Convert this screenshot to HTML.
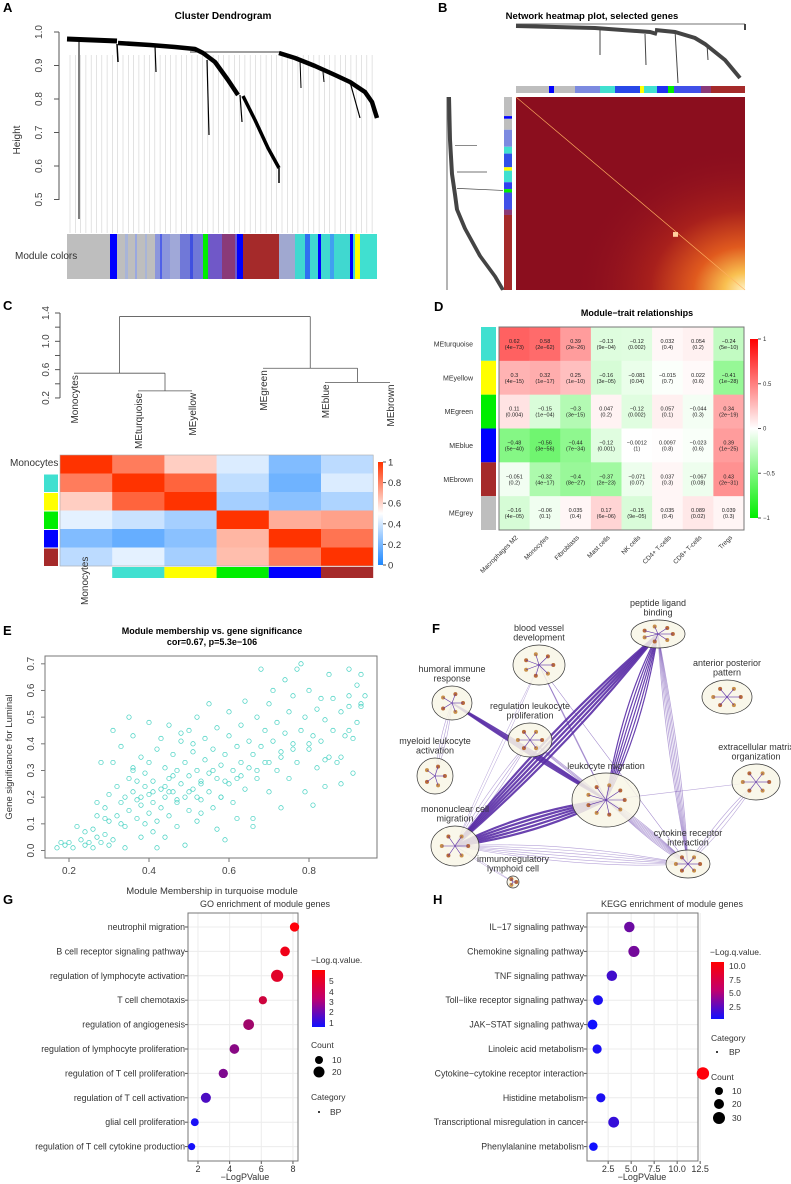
<!DOCTYPE html>
<html><head><meta charset="utf-8"><style>
body{margin:0;background:#fff;}
svg{display:block;font-family:"Liberation Sans",sans-serif;}
</style></head><body>
<svg id="fig" width="791" height="1184" viewBox="0 0 791 1184" xmlns="http://www.w3.org/2000/svg">
<!-- Panel A -->
<g>
<text x="3" y="12" font-size="13" font-weight="bold">A</text>
<text x="223" y="19" font-size="10" font-weight="bold" text-anchor="middle">Cluster Dendrogram</text>
<line x1="59" y1="32" x2="59" y2="200" stroke="#555"/>
<g id="aTicks"></g>
<text transform="translate(20,140) rotate(-90)" font-size="10" text-anchor="middle" fill="#333">Height</text>
<g id="aGrey"></g>
<g fill="none" stroke="#000" stroke-linejoin="round">
<polyline points="67,39 117,41" stroke-width="5"/>
<polyline points="118,43 150,45 175,47 195,49 203,53 215,62 228,80 238,95" stroke-width="4.5"/>
<polyline points="243,96 255,120 268,148 279,168" stroke-width="3.5"/>
<line x1="279" y1="168" x2="279" y2="183" stroke-width="1.5"/>
<line x1="79" y1="40" x2="79" y2="219" stroke-width="1"/>
<line x1="117" y1="44" x2="118" y2="62" stroke-width="1.5"/>
<line x1="155" y1="46" x2="156" y2="72" stroke-width="1.2"/>
<line x1="207" y1="60" x2="209" y2="135" stroke-width="1.2"/>
<line x1="240" y1="95" x2="242" y2="122" stroke-width="1.2"/>
<line x1="190" y1="52" x2="280" y2="52" stroke-width="0.8"/>
<polyline points="279,53 295,58 315,66 335,75 350,82 365,92 372,102 377,118" stroke-width="4.5"/>
<line x1="300" y1="60" x2="301" y2="88" stroke-width="1"/>
<line x1="323" y1="72" x2="324" y2="82" stroke-width="1"/>
<line x1="350" y1="82" x2="360" y2="118" stroke-width="1.2"/>
</g>
<g id="aBar"></g>
<text x="15" y="259" font-size="10" fill="#333">Module colors</text>
</g>
<!-- Panel B -->
<text x="438" y="12" font-size="13" font-weight="bold">B</text>
<text x="592" y="19" font-size="9.5" font-weight="bold" text-anchor="middle">Network heatmap plot, selected genes</text>
<g transform="translate(395,0)">
<g fill="none" stroke="#444">
<polyline points="121,26 200,28 255,32 262,34" stroke-width="4"/>
<polyline points="260,30 280,32 300,38 310,44 330,60 345,78" stroke-width="4"/>
<line x1="121" y1="24" x2="350" y2="24" stroke-width="0.8"/>
<line x1="350" y1="24" x2="350" y2="30" stroke-width="2"/>
<line x1="205" y1="30" x2="205" y2="55" stroke-width="1"/>
<line x1="250" y1="34" x2="251" y2="65" stroke-width="1"/>
<line x1="280" y1="30" x2="283" y2="83" stroke-width="1"/>
<line x1="312" y1="44" x2="313" y2="60" stroke-width="1"/>
</g>
<g id="bBars"></g>
<defs>
<radialGradient id="hg" cx="1" cy="1" r="0.75">
<stop offset="0" stop-color="#fff3c8"/><stop offset="0.12" stop-color="#f9c050"/><stop offset="0.3" stop-color="#e05a1e"/><stop offset="0.55" stop-color="#a8201c"/><stop offset="1" stop-color="#8b0e1e" stop-opacity="0"/>
</radialGradient>
<linearGradient id="cgC" x1="0" y1="0" x2="0" y2="1"><stop offset="0" stop-color="#ff3300"/><stop offset="0.5" stop-color="#ffffff"/><stop offset="1" stop-color="#1e88ff"/></linearGradient>
<linearGradient id="cgD" x1="0" y1="0" x2="0" y2="1"><stop offset="0" stop-color="#ff0000"/><stop offset="0.5" stop-color="#ffffff"/><stop offset="1" stop-color="#00ee00"/></linearGradient>
<linearGradient id="cgG" x1="0" y1="0" x2="0" y2="1"><stop offset="0" stop-color="#ff0000"/><stop offset="0.5" stop-color="#c0006f"/><stop offset="1" stop-color="#1010ff"/></linearGradient>
</defs>
<g transform="translate(0,97) scale(1,0.682) translate(0,-97)">
<g fill="none" stroke="#444">
<polyline points="54,97 55,160 57,210 60,240 62,262 70,290 85,330 100,360 108,380" stroke-width="4"/>
<line x1="52" y1="97" x2="52" y2="380" stroke-width="0.8"/>
<line x1="60" y1="168" x2="82" y2="168" stroke-width="1"/>
<line x1="62" y1="207" x2="92" y2="207" stroke-width="1"/>
<line x1="62" y1="231" x2="108" y2="234" stroke-width="1"/>
</g>
<g id="bLeftBars"></g>
<rect x="121" y="97" width="229" height="283" fill="#8b0e1e"/>
<rect x="121" y="97" width="229" height="283" fill="url(#hg)"/>
<line x1="121" y1="97" x2="350" y2="380" stroke="#ffb060" stroke-width="0.8"/>
<rect x="278" y="295" width="5" height="7" fill="#ffd0a0"/>
</g>
</g>
<!-- Panel C -->
<g>
<text x="3" y="310" font-size="13" font-weight="bold">C</text>
<line x1="60" y1="313" x2="60" y2="398" stroke="#555"/>
<g id="cTicks"></g>
<g id="cDend" fill="none" stroke="#555" stroke-width="0.8"></g>
<g id="cHeat"></g>
<text x="10" y="466" font-size="10" fill="#333">Monocytes</text>
<text transform="translate(88,605) rotate(-90)" font-size="10" fill="#333">Monocytes</text>
<rect x="378" y="462" width="5" height="103" fill="url(#cgC)"/>
<g id="cLeg" font-size="9.5" fill="#333"></g>
</g>
<!-- Panel D -->
<g>
<text x="434" y="311" font-size="13" font-weight="bold">D</text>
<text x="637" y="316" font-size="9" font-weight="bold" text-anchor="middle">Module−trait relationships</text>
<g id="dHeat"></g>
<rect x="499" y="327" width="245" height="203" fill="none" stroke="#777"/>
<rect x="750" y="339" width="8" height="179" fill="url(#cgD)"/>
<g id="dLeg" font-size="6" fill="#333"></g>
</g>
<!-- Panel E -->
<g>
<text x="3" y="635" font-size="13" font-weight="bold">E</text>
<text x="212" y="634" font-size="9" font-weight="bold" text-anchor="middle">Module membership vs. gene significance</text>
<text x="212" y="645" font-size="9" font-weight="bold" text-anchor="middle">cor=0.67, p=5.3e−106</text>
<rect x="45" y="656" width="332" height="202" fill="none" stroke="#777"/>
<g id="eAx" font-size="10" fill="#444"></g>
<text transform="translate(12,757) rotate(-90)" font-size="9.5" fill="#333" text-anchor="middle">Gene significance for Luminal</text>
<text x="212" y="894" font-size="9.5" fill="#333" text-anchor="middle">Module Membership in turquoise module</text>
<g id="ePts"></g>
</g>
<!-- Panel F -->
<g id="pF">
<text x="432" y="633" font-size="13" font-weight="bold">F</text>
</g>
<!-- Panel G -->
<g>
<text x="3" y="904" font-size="13" font-weight="bold">G</text>
<text x="265" y="907" font-size="9" fill="#333" text-anchor="middle">GO enrichment of module genes</text>
<g id="gPlot"></g>
<text x="245" y="1180" font-size="9" fill="#333" text-anchor="middle">−LogPValue</text>
<text x="311" y="963" font-size="8.5" fill="#333">−Log.q.value.</text>
<rect x="312" y="970" width="13" height="57" fill="url(#cgG)"/>
<g font-size="8.5" fill="#333"><text x="329" y="984">5</text><text x="329" y="995">4</text><text x="329" y="1005">3</text><text x="329" y="1015">2</text><text x="329" y="1026">1</text></g>
<text x="311" y="1048" font-size="8.5" fill="#333">Count</text>
<circle cx="319" cy="1060" r="4"/><text x="332" y="1063" font-size="8.5" fill="#333">10</text>
<circle cx="319" cy="1072" r="5.5"/><text x="332" y="1075" font-size="8.5" fill="#333">20</text>
<text x="311" y="1100" font-size="8.5" fill="#333">Category</text>
<circle cx="319" cy="1112" r="1"/><text x="330" y="1115" font-size="8.5" fill="#333">BP</text>
</g>
<!-- Panel H -->
<g>
<text x="433" y="904" font-size="13" font-weight="bold">H</text>
<text x="672" y="907" font-size="9" fill="#333" text-anchor="middle">KEGG enrichment of module genes</text>
<g id="hPlot"></g>
<text x="642" y="1180" font-size="9" fill="#333" text-anchor="middle">−LogPValue</text>
<text x="710" y="955" font-size="8.5" fill="#333">−Log.q.value.</text>
<rect x="711" y="962" width="13" height="57" fill="url(#cgG)"/>
<g font-size="8.5" fill="#333"><text x="729" y="969">10.0</text><text x="729" y="983">7.5</text><text x="729" y="996">5.0</text><text x="729" y="1010">2.5</text></g>
<text x="711" y="1041" font-size="8.5" fill="#333">Category</text>
<circle cx="717" cy="1052" r="1"/><text x="729" y="1055" font-size="8.5" fill="#333">BP</text>
<text x="711" y="1080" font-size="8.5" fill="#333">Count</text>
<circle cx="719" cy="1091" r="4"/><text x="732" y="1094" font-size="8.5" fill="#333">10</text>
<circle cx="719" cy="1104" r="5"/><text x="732" y="1107" font-size="8.5" fill="#333">20</text>
<circle cx="719" cy="1118" r="6"/><text x="732" y="1121" font-size="8.5" fill="#333">30</text>
</g>
</svg>
<script>
// ---------- data ----------
const aTickVals = [0.5,0.6,0.7,0.8,0.9,1.0];
const aBarSegs = [[67,110,"#bebebe"],[110,117,"#0000ff"],[117,155,"#bebebe"],[125,128,"#a8b4d8"],[135,137,"#9aa8e0"],[145,147,"#a8b4d8"],[155,170,"#8c96dc"],[160,162,"#5060e8"],[170,180,"#a0a8d8"],[180,203,"#7078d8"],[190,193,"#4050e0"],[203,208,"#00ee00"],[208,237,"#7058c8"],[222,235,"#8a3a78"],[237,243,"#0000ff"],[243,279,"#a52a2a"],[279,295,"#a0a8d0"],[295,355,"#40d8d0"],[305,310,"#3070f0"],[318,321,"#0000ff"],[330,334,"#40a0f0"],[350,353,"#0000ff"],[355,360,"#ffff00"],[360,377,"#40e0d0"]];
const bTopSegs = [[121,154,"#bebebe"],[154,159,"#0000ff"],[159,180,"#bebebe"],[180,205,"#7c8ae0"],[205,220,"#40e0d0"],[220,245,"#2848e8"],[245,249,"#ffff00"],[249,262,"#40e0d0"],[262,273,"#2030f0"],[273,279,"#00ee00"],[279,306,"#4050e8"],[306,316,"#8a3a78"],[316,350,"#a52a2a"]];
const bLeftSegs = [[97,125,"#bebebe"],[125,129,"#0000ff"],[129,145,"#bebebe"],[145,170,"#7c8ae0"],[170,180,"#40e0d0"],[180,200,"#3050e8"],[200,205,"#ffff00"],[205,222,"#40e0d0"],[222,232,"#3040f0"],[232,237,"#00ee00"],[237,262,"#4050e8"],[262,270,"#8a3a78"],[270,380,"#a52a2a"]];
const cLeaves = ["Monocytes","MEturquoise","MEyellow","MEgreen","MEblue","MEbrown"];
const cLeafColors = [null,"#40e0d0","#ffff00","#00ee00","#0000ff","#a52a2a"];
const cTickVals = [0.2,0.6,1.0,1.4];
const cCorr = [
 [1.0,0.82,0.62,0.42,0.22,0.35],
 [0.82,1.0,0.88,0.36,0.18,0.42],
 [0.62,0.88,1.0,0.3,0.24,0.32],
 [0.44,0.38,0.3,1.0,0.7,0.73],
 [0.22,0.16,0.24,0.68,1.0,0.84],
 [0.35,0.44,0.3,0.66,0.82,1.0]];
const dRows = ["MEturquoise","MEyellow","MEgreen","MEblue","MEbrown","MEgrey"];
const dRowColors = ["#40e0d0","#ffff00","#00ee00","#0000ff","#a52a2a","#bebebe"];
const dCols = ["Macrophages M2","Monocytes","Fibroblasts","Mast cells","NK cells","CD4+ T-cells","CD8+ T-cells","Tregs"];
const dCor = [
 [0.62,0.58,0.39,-0.13,-0.12,0.032,0.054,-0.24],
 [0.3,0.32,0.25,-0.16,-0.081,-0.015,0.022,-0.41],
 [0.11,-0.15,-0.3,0.047,-0.12,0.057,-0.044,0.34],
 [-0.48,-0.56,-0.44,-0.12,-0.0012,0.0097,-0.023,0.39],
 [-0.051,-0.32,-0.4,-0.37,-0.071,0.037,-0.067,0.43],
 [-0.16,-0.06,0.035,0.17,-0.15,0.035,0.089,0.039]];
const dP = [
 ["4e-73","2e-62","2e-26","9e-04","0.002","0.4","0.2","5e-10"],
 ["4e-15","1e-17","1e-10","3e-05","0.04","0.7","0.6","1e-28"],
 ["0.004","1e-04","3e-15","0.2","0.002","0.1","0.3","2e-19"],
 ["5e-40","3e-56","7e-34","0.001","1","0.8","0.6","1e-25"],
 ["0.2","4e-17","8e-27","2e-23","0.07","0.3","0.08","2e-31"],
 ["4e-05","0.1","0.4","6e-06","9e-05","0.4","0.02","0.3"]];
const dLegVals = [1,0.5,0,-0.5,-1];
const eX = [0.17,0.18,0.19,0.2,0.21,0.22,0.23,0.24,0.24,0.25,0.26,0.26,0.27,0.27,0.28,0.28,0.29,0.29,0.3,0.3,0.3,0.31,0.31,0.32,0.32,0.33,0.33,0.34,0.34,0.34,0.35,0.35,0.36,0.36,0.36,0.37,0.37,0.37,0.38,0.38,0.38,0.39,0.39,0.4,0.4,0.4,0.4,0.41,0.41,0.41,0.42,0.42,0.43,0.43,0.43,0.44,0.44,0.44,0.45,0.45,0.45,0.46,0.46,0.47,0.47,0.47,0.48,0.48,0.49,0.49,0.49,0.5,0.5,0.5,0.51,0.51,0.52,0.52,0.52,0.53,0.53,0.54,0.54,0.55,0.55,0.55,0.56,0.56,0.57,0.57,0.58,0.58,0.59,0.59,0.6,0.6,0.6,0.61,0.61,0.62,0.62,0.63,0.63,0.64,0.64,0.65,0.65,0.66,0.66,0.67,0.67,0.68,0.68,0.69,0.69,0.7,0.7,0.71,0.71,0.72,0.72,0.73,0.73,0.74,0.74,0.75,0.75,0.76,0.76,0.77,0.77,0.78,0.78,0.79,0.79,0.8,0.8,0.81,0.81,0.82,0.82,0.83,0.83,0.84,0.84,0.85,0.85,0.86,0.86,0.87,0.88,0.88,0.89,0.9,0.9,0.91,0.92,0.93,0.88,0.9,0.91,0.92,0.93,0.9,0.93,0.94,0.35,0.39,0.42,0.46,0.53,0.57,0.62,0.66,0.58,0.51,0.48,0.33,0.36,0.38,0.41,0.44,0.47,0.5,0.53,0.56,0.59,0.63,0.67,0.7,0.73,0.76,0.8,0.84,0.31,0.29,0.27,0.45,0.52];
const eY = [0.01,0.03,0.02,0.03,0.01,0.09,0.04,0.02,0.07,0.03,0.08,0.01,0.05,0.13,0.03,0.33,0.06,0.16,0.02,0.11,0.21,0.45,0.04,0.13,0.24,0.18,0.39,0.01,0.09,0.2,0.27,0.15,0.22,0.31,0.43,0.12,0.19,0.26,0.05,0.17,0.35,0.24,0.29,0.14,0.21,0.48,0.33,0.07,0.18,0.26,0.38,0.11,0.23,0.16,0.42,0.31,0.2,0.05,0.27,0.13,0.47,0.22,0.36,0.18,0.3,0.09,0.25,0.41,0.2,0.33,0.02,0.28,0.15,0.45,0.23,0.37,0.3,0.11,0.5,0.26,0.19,0.34,0.42,0.22,0.29,0.55,0.16,0.38,0.27,0.46,0.32,0.2,0.04,0.36,0.25,0.43,0.52,0.3,0.18,0.39,0.27,0.47,0.33,0.23,0.56,0.41,0.31,0.36,0.12,0.5,0.27,0.68,0.39,0.45,0.33,0.22,0.55,0.41,0.6,0.3,0.48,0.37,0.16,0.64,0.44,0.27,0.52,0.4,0.58,0.68,0.33,0.45,0.7,0.22,0.5,0.38,0.6,0.43,0.17,0.53,0.31,0.57,0.41,0.24,0.49,0.35,0.66,0.45,0.57,0.33,0.52,0.25,0.43,0.54,0.68,0.29,0.48,0.55,0.35,0.58,0.42,0.62,0.66,0.45,0.54,0.58,0.5,0.1,0.01,0.28,0.14,0.08,0.12,0.09,0.2,0.4,0.44,0.1,0.3,0.2,0.22,0.24,0.19,0.22,0.25,0.3,0.26,0.28,0.3,0.33,0.35,0.38,0.4,0.34,0.33,0.12,0.18,0.22,0.2,0.22];
const gTerms = ["neutrophil migration","B cell receptor signaling pathway","regulation of lymphocyte activation","T cell chemotaxis","regulation of angiogenesis","regulation of lymphocyte proliferation","regulation of T cell proliferation","regulation of T cell activation","glial cell proliferation","regulation of T cell cytokine production"];
const gLogP = [8.1,7.5,7.0,6.1,5.2,4.3,3.6,2.5,1.8,1.6];
const gLogQ = [5.6,5.3,5.0,4.6,3.7,3.2,3.0,2.0,1.0,0.9];
const gCount = [12,13,20,9,16,13,12,14,8,6];
const gTicks = [2,4,6,8];
const hTerms = ["IL−17 signaling pathway","Chemokine signaling pathway","TNF signaling pathway","Toll−like receptor signaling pathway","JAK−STAT signaling pathway","Linoleic acid metabolism","Cytokine−cytokine receptor interaction","Histidine metabolism","Transcriptional misregulation in cancer","Phenylalanine metabolism"];
const hLogP = [4.8,5.3,2.9,1.4,0.8,1.3,12.8,1.7,3.1,0.9];
const hLogQ = [4.2,4.5,2.5,1.0,0.5,0.9,10.2,1.0,2.0,0.5];
const hCount = [14,16,14,12,12,10,20,10,15,8];
const hTicks = [2.5,5.0,7.5,10.0,12.5];

const NS="http://www.w3.org/2000/svg";
function mk(parent, tag, attrs, txt){const e=document.createElementNS(NS,tag);for(const k in attrs)e.setAttribute(k,attrs[k]);if(txt!==undefined)e.textContent=txt;parent.appendChild(e);return e;}
function lerp(a,b,t){return a+(b-a)*t;}
function rgb(c1,c2,t){return "rgb("+[0,1,2].map(i=>Math.round(lerp(c1[i],c2[i],t))).join(",")+")";}

// ---------- Panel A ----------
const aY = h => 32 + (1.0 - h) * 335;
const aT = document.getElementById("aTicks");
for (const v of aTickVals) {
  const tk = mk(aT,"line",{x1:54,x2:59,y1:aY(v),y2:aY(v),stroke:"#555"});
  
  
  const tl = mk(aT,"text",{transform:`translate(42,${aY(v)}) rotate(-90)`,"font-size":10,fill:"#444","text-anchor":"middle"},v.toFixed(1));
  
  
}
const aG = document.getElementById("aGrey");
for (let x=70; x<377; x+=5.3) {
  const ln = mk(aG,"line",{x1:x,x2:x,y1:55,y2:233,stroke:"#d0d0d0","stroke-width":0.6});
  
  
}
const aB = document.getElementById("aBar");
for (const s of aBarSegs) {
  const r = mk(aB,"rect",{x:s[0],y:234,width:s[1]-s[0],height:45,fill:s[2]});
  
  
}

// ---------- Panel B ----------
const bB = document.getElementById("bBars");
for (const s of bTopSegs) {
  const r = mk(bB,"rect",{x:s[0],y:86,width:s[1]-s[0],height:7,fill:s[2]});
  
  
}
const bL = document.getElementById("bLeftBars");
for (const s of bLeftSegs) {
  const r = mk(bL,"rect",{x:109,y:s[0],width:8,height:s[1]-s[0],fill:s[2]});
  
  
}

// ---------- Panel C ----------
const cY = h => 313 + (1.4 - h) * 70.8;
const cT = document.getElementById("cTicks");
for (const v of [0.2,0.4,0.6,0.8,1.0,1.2,1.4]) {
  const tk = mk(cT,"line",{x1:55,x2:60,y1:cY(v),y2:cY(v),stroke:"#555"});
  
  
}
for (const v of cTickVals) {
  const tl = mk(cT,"text",{transform:`translate(49,${cY(v)}) rotate(-90)`,"font-size":10,fill:"#444","text-anchor":"middle"},v.toFixed(1));
  
  
}
const cLeafX = [74,138,192,263,325,390];
const cLeafH = [0.55,0.3,0.3,0.62,0.42,0.42];
const cD = document.getElementById("cDend");
function seg(x1,y1,x2,y2){const l=mk(cD,"line",{x1,y1,x2,y2});}
const tyX=(cLeafX[1]+cLeafX[2])/2, bbX=(cLeafX[4]+cLeafX[5])/2;
seg(cLeafX[1],cY(0.3),cLeafX[2],cY(0.3));
seg(cLeafX[0],cY(0.55),tyX,cY(0.55)); seg(tyX,cY(0.55),tyX,cY(0.3));
seg(cLeafX[4],cY(0.42),cLeafX[5],cY(0.42));
seg(cLeafX[3],cY(0.62),bbX,cY(0.62)); seg(bbX,cY(0.62),bbX,cY(0.42));
const lX=(cLeafX[0]+tyX)/2, rX=(cLeafX[3]+bbX)/2;
seg(lX,cY(1.35),rX,cY(1.35)); seg(lX,cY(1.35),lX,cY(0.55)); seg(rX,cY(1.35),rX,cY(0.62));
cLeaves.forEach((n,i)=>{
  const t = mk(cD,"text",{transform:`translate(${cLeafX[i]+4},${cY(cLeafH[i])+2}) rotate(-90)`,"font-size":10,fill:"#333",stroke:"none","text-anchor":"end"},n);
  
  
});
const cH = document.getElementById("cHeat");
const cw = 52.2, ch = 18.5, cx0 = 60, cy0 = 455;
function cCol(v){return v>=0.5?rgb([255,255,255],[255,51,0],(v-0.5)/0.5):rgb([30,136,255],[255,255,255],v/0.5);}
cCorr.forEach((row,i)=>row.forEach((v,j)=>{
  const r = mk(cH,"rect",{x:cx0+j*cw,y:cy0+i*ch,width:cw+0.3,height:ch+0.3,fill:cCol(v)});
  
  
}));
const cbd = mk(cH,"rect",{x:cx0,y:cy0,width:cw*6,height:ch*6,fill:"none",stroke:"#aaa","stroke-width":0.6});


cLeafColors.forEach((c,i)=>{ if(!c) return;
  const r1 = mk(cH,"rect",{x:44,y:cy0+i*ch+1,width:14,height:ch-1,fill:c});
  
  
  const r2 = mk(cH,"rect",{x:cx0+i*cw,y:567,width:cw,height:11,fill:c});
  
  
});
const cL = document.getElementById("cLeg");
[1,0.8,0.6,0.4,0.2,0].forEach(v=>{
  const yy = 462 + (1-v)*103;
  const tk = mk(cL,"line",{x1:383,x2:386,y1:yy,y2:yy,stroke:"#555"});
  
  
  const t = mk(cL,"text",{x:388,y:yy+3.5},String(v));
  
  
});

// ---------- Panel D ----------
const dH = document.getElementById("dHeat");
const dx0=499, dy0=327, dw=245/8, dh=203/6;
function dCol(v){return v>=0?rgb([255,255,255],[255,0,0],v):rgb([255,255,255],[0,238,0],-v);}
dCor.forEach((row,i)=>{
  const rc = mk(dH,"rect",{x:481,y:dy0+i*dh,width:15,height:dh,fill:dRowColors[i]});
  
  
  const rl = mk(dH,"text",{x:473,y:dy0+i*dh+dh/2+2.5,"font-size":7,fill:"#333","text-anchor":"end"},dRows[i]);
  
  
  row.forEach((v,j)=>{
    const r = mk(dH,"rect",{x:dx0+j*dw,y:dy0+i*dh,width:dw+0.3,height:dh+0.3,fill:dCol(v)});
    
    
    const t1 = mk(dH,"text",{x:dx0+j*dw+dw/2,y:dy0+i*dh+dh/2-1,"font-size":5.5,fill:"#222","text-anchor":"middle"},String(v).replace("-","−"));
    
    
    const t2 = mk(dH,"text",{x:dx0+j*dw+dw/2,y:dy0+i*dh+dh/2+5,"font-size":5.5,fill:"#222","text-anchor":"middle"},"("+dP[i][j].replace("-","−")+")");
    
    
  });
});
dCols.forEach((n,j)=>{
  const t = mk(dH,"text",{transform:`translate(${dx0+j*dw+dw/2+4},${538}) rotate(-45)`,"font-size":6.5,fill:"#333","text-anchor":"end"},n);
  
  
});
const dL = document.getElementById("dLeg");
dLegVals.forEach(v=>{
  const yy = 339 + (1-v)/2*179;
  const tk = mk(dL,"line",{x1:758,x2:761,y1:yy,y2:yy,stroke:"#555"});
  
  
  const t = mk(dL,"text",{x:763,y:yy+2},String(v).replace("-","−"));
  
  
});

// ---------- Panel E ----------
const exS = v => 69 + (v-0.2)*400;
const eyS = v => 850.5 - v*266.7;
const eA = document.getElementById("eAx");
for (const v of [0.2,0.4,0.6,0.8]) {
  const tk = mk(eA,"line",{x1:exS(v),x2:exS(v),y1:858,y2:862,stroke:"#777"});
  
  
  const t = mk(eA,"text",{x:exS(v),y:874,"text-anchor":"middle"},v.toFixed(1));
  
  
}
for (const v of [0,0.1,0.2,0.3,0.4,0.5,0.6,0.7]) {
  const tk = mk(eA,"line",{x1:41,x2:45,y1:eyS(v),y2:eyS(v),stroke:"#777"});
  
  
  const t = mk(eA,"text",{transform:`translate(34,${eyS(v)}) rotate(-90)`,"text-anchor":"middle"},v.toFixed(1));
  
  
}
const eP = document.getElementById("ePts");
eX.forEach((x,i)=>{
  const c = mk(eP,"circle",{cx:exS(x),cy:eyS(eY[i]),r:2.2,fill:"none",stroke:"#40d0c0","stroke-width":0.7});
  
  
});

// ---------- Panel F (network) ----------
const pF = document.getElementById("pF");
const fNodes = [
 ["peptide ligand","binding",658,634,27,14],
 ["blood vessel","development",539,665,26,20],
 ["anterior posterior","pattern",727,697,25,17],
 ["humoral immune","response",452,703,20,17],
 ["regulation leukocyte","proliferation",530,740,22,17],
 ["myeloid leukocyte","activation",435,776,18,18],
 ["extracellular matrix","organization",756,782,24,18],
 ["leukocyte migration","",606,800,34,27],
 ["mononuclear cell","migration",455,846,24,20],
 ["cytokine receptor","interaction",688,864,22,14],
 ["immunoregulatory","lymphoid cell",513,882,6,6]];
const fEdges = [[8,0,5,2.2],[8,7,5,2.2],[3,7,4,1.5],[7,0,6,1.2],[0,9,6,0.8],[7,9,8,0.7],[8,9,6,0.6],[4,7,3,0.8],[1,7,3,0.6],[3,5,3,0.6],[6,9,3,0.6],[7,6,1,0.6],[1,9,2,0.5],[8,10,2,0.5],[4,8,3,0.6],[1,8,2,0.5]];
fEdges.forEach(e=>{
  const a=fNodes[e[0]], b=fNodes[e[1]];
  for (let k=0;k<e[2];k++){
    const off=(k-(e[2]-1)/2)*4;
    const mx=(a[2]+b[2])/2+off, my=(a[3]+b[3])/2+off*1.5;
    const p = mk(pF,"path",{d:`M${a[2]},${a[3]} Q${mx},${my} ${b[2]},${b[3]}`,fill:"none",stroke:"#5a2ea6","stroke-opacity":e[3]>1?0.9:0.45,"stroke-width":e[3]});
    
    
  }
});
fNodes.forEach(n=>{
  const el = mk(pF,"ellipse",{cx:n[2],cy:n[3],rx:n[4],ry:n[5],fill:"#f8f6e6","fill-opacity":0.85,stroke:"#333","stroke-width":0.7});
  
  
  const k = Math.max(3, Math.round(n[4]/4));
  for (let i=0;i<k;i++){
    const ang = i/k*6.283, rr = 0.55;
    const d = mk(pF,"circle",{cx:n[2]+Math.cos(ang)*n[4]*rr,cy:n[3]+Math.sin(ang)*n[5]*rr,r:2,fill:i%2?"#c8904a":"#b86a3a"});
    
    
    const l = mk(pF,"line",{x1:n[2],y1:n[3],x2:n[2]+Math.cos(ang)*n[4]*rr,y2:n[3]+Math.sin(ang)*n[5]*rr,stroke:"#5a2ea6","stroke-width":0.6});
    
    
  }
  const ly = n[1] ? n[3]-n[5]-14 : n[3]-n[5]-4;
  const t1 = mk(pF,"text",{x:n[2],y:ly,"font-size":9,fill:"#333","text-anchor":"middle"},n[0]);
  
  
  if (n[1]) {
    const t2 = mk(pF,"text",{x:n[2],y:ly+9.5,"font-size":9,fill:"#333","text-anchor":"middle"},n[1]);
    
    
  }
});

// ---------- Panels G/H dot plots ----------
function dot(gid, prefix, terms, logP, logQ, counts, ticks, box, xmin, xscale, qmin, qmax, rfun){
  const g = document.getElementById(gid);
  const xS = v => box.x0 + (v - xmin) * xscale;
  for (const t of ticks) {
    const gl = mk(g,"line",{x1:xS(t),x2:xS(t),y1:box.y0,y2:box.y1,stroke:"#ececec"});
    
    
    const tk = mk(g,"line",{x1:xS(t),x2:xS(t),y1:box.y1,y2:box.y1+3,stroke:"#555"});
    
    
    const tl = mk(g,"text",{x:xS(t),y:box.y1+11,"font-size":9,fill:"#333","text-anchor":"middle"},String(prefix==='h'? t.toFixed(1): t));
    
    
  }
  const step = 24.4;
  terms.forEach((term,i)=>{
    const yy = box.y0 + 14 + i*step;
    const gl = mk(g,"line",{x1:box.x0,x2:box.x1,y1:yy,y2:yy,stroke:"#ececec"});
    
    
    const tk = mk(g,"line",{x1:box.x0-3,x2:box.x0,y1:yy,y2:yy,stroke:"#555"});
    
    
    const tl = mk(g,"text",{x:box.x0-3,y:yy+3,"font-size":8.8,fill:"#333","text-anchor":"end"},term);
    
    
  });
  const bd = mk(g,"rect",{x:box.x0,y:box.y0,width:box.x1-box.x0,height:box.y1-box.y0,fill:"none",stroke:"#777"});
  
  
  terms.forEach((term,i)=>{
    const yy = box.y0 + 14 + i*step;
    const t = Math.max(0,Math.min(1,(logQ[i]-qmin)/(qmax-qmin)));
    const c = mk(g,"circle",{cx:xS(logP[i]),cy:yy,r:rfun(counts[i]),fill:rgb([16,16,255],[255,0,10],t)});
    
    
  });
}
dot("gPlot","g",gTerms,gLogP,gLogQ,gCount,gTicks,{x0:188,x1:298,y0:913,y1:1161},1.37,15.83,0.8,5.6,c=>2.5+c*0.18);
dot("hPlot","h",hTerms,hLogP,hLogQ,hCount,hTicks,{x0:587,x1:698,y0:913,y1:1161},0.2,9.2,0.5,10.2,c=>3+c*0.16);
</script>
</body></html>
